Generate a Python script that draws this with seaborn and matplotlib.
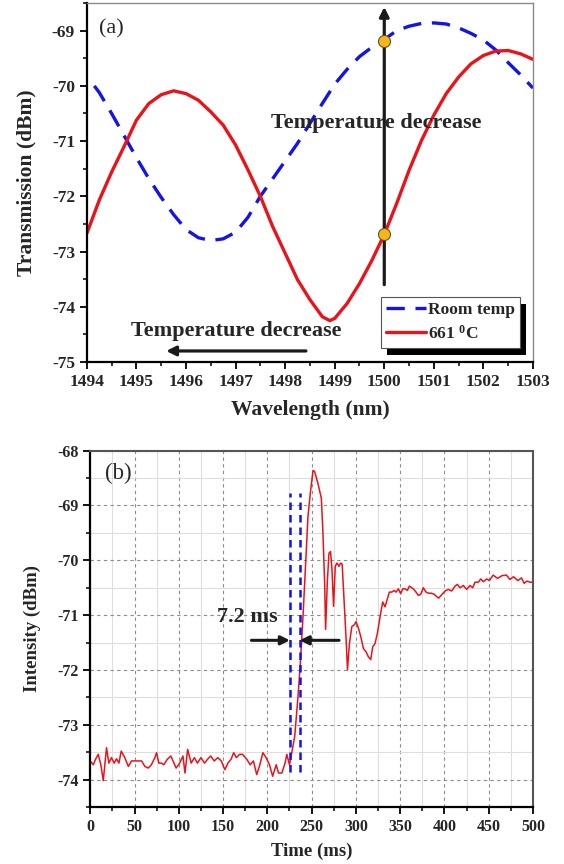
import matplotlib
matplotlib.use("Agg")
import matplotlib.pyplot as plt
import matplotlib.transforms as mtransforms
from matplotlib.patches import Rectangle
from matplotlib.ticker import MultipleLocator
import pandas as pd
import seaborn as sns

# ---------------- (a) transmission spectra ----------------
wl_hot = [1494.00, 1494.25, 1494.50, 1494.75, 1495.00, 1495.25, 1495.50, 1495.75,
          1496.00, 1496.25, 1496.50, 1496.75, 1497.00, 1497.25, 1497.50, 1497.75,
          1498.00, 1498.25, 1498.50, 1498.75, 1498.90, 1499.00, 1499.25, 1499.50,
          1499.75, 1500.00, 1500.25, 1500.50, 1500.75, 1501.00, 1501.25, 1501.50,
          1501.75, 1502.00, 1502.25, 1502.50, 1502.75, 1503.00]
tr_hot = [-72.67, -72.07, -71.56, -71.10, -70.62, -70.32, -70.16, -70.09,
          -70.14, -70.26, -70.47, -70.71, -71.07, -71.52, -72.00, -72.55,
          -73.03, -73.51, -73.87, -74.18, -74.25, -74.21, -73.94, -73.58,
          -73.16, -72.69, -72.13, -71.53, -70.99, -70.53, -70.14, -69.84,
          -69.60, -69.45, -69.37, -69.36, -69.42, -69.52]

wl_room = [1494.15, 1494.25, 1494.50, 1494.75, 1495.00, 1495.25, 1495.50, 1495.75,
           1496.00, 1496.25, 1496.50, 1496.75, 1497.00, 1497.25, 1497.50, 1497.75,
           1498.00, 1498.25, 1498.50, 1498.75, 1499.00, 1499.25, 1499.50, 1499.75,
           1500.00, 1500.25, 1500.50, 1500.75, 1501.00, 1501.25, 1501.50, 1501.75,
           1502.00, 1502.25, 1502.50, 1502.75, 1503.00]
tr_room = [-70.00, -70.12, -70.50, -70.90, -71.30, -71.68, -72.02, -72.33,
           -72.60, -72.75, -72.80, -72.77, -72.65, -72.38, -72.00, -71.68,
           -71.36, -71.04, -70.68, -70.32, -69.97, -69.70, -69.47, -69.30,
           -69.16, -69.00, -68.92, -68.87, -68.86, -68.88, -68.95, -69.05,
           -69.17, -69.35, -69.58, -69.80, -70.04]

probe_wl = [1500.0, 1500.0]
probe_tr = [-69.18, -72.69]

# ---------------- (b) time response ----------------
time_ms = [0, 3.4, 6, 9, 12, 14.7, 18.4, 21, 24, 27, 29.7, 32.4, 35, 39, 43, 46.6,
           52, 58, 61.7, 65.5, 69, 73, 74.9, 77.5, 80.5, 83, 87, 91, 94.5, 97, 101,
           104.7, 107, 110, 114, 117.6, 121, 125, 129, 132.5, 136, 140, 144, 148,
           152, 155.5, 159, 162, 165, 168.6, 172, 176.8, 180.6, 184.3, 188, 191,
           195, 198.6, 202.4, 206, 210, 212.6, 216.4, 220, 222, 225, 227.6, 231,
           232.8, 234.7, 237.3, 240.3, 243.3, 245.9, 248.5, 251.6, 253.4, 257.2,
           261, 262.8, 264.7, 265.8, 267.7, 269.6, 271.4, 273, 274.8, 276.7,
           278.6, 280.9, 282.7, 284.5, 286.7, 289, 290.5, 292.7, 295.4, 298,
           300.2, 302.9, 305.5, 308.5, 311.5, 314.1, 316.8, 319, 321.6, 324.3,
           327.3, 330.3, 332.9, 335.6, 337.8, 340.5, 343.1, 345.4, 348, 350.6,
           352.9, 355.5, 358.2, 360.4, 363, 364.9, 367.9, 370.5, 373.2, 376.2,
           379.2, 381.9, 385, 388.5, 391, 393.5, 396.9, 400.7, 404.4, 408.2, 412,
           414.6, 417.6, 421.4, 425.1, 428.9, 431.9, 434.5, 438.3, 441, 444,
           447.7, 450.7, 455, 460, 465, 470, 474, 478, 483, 487, 490, 493, 497, 500]
intensity = [-73.66, -73.73, -73.63, -73.54, -73.73, -74.02, -73.42, -73.70, -73.60,
             -73.70, -73.62, -73.70, -73.48, -73.60, -73.76, -73.66, -73.66, -73.66,
             -73.76, -73.79, -73.73, -73.60, -73.51, -73.70, -73.70, -73.73, -73.63,
             -73.57, -73.70, -73.79, -73.70, -73.57, -73.88, -73.45, -73.70, -73.60,
             -73.70, -73.60, -73.70, -73.63, -73.57, -73.66, -73.60, -73.66, -73.82,
             -73.70, -73.63, -73.51, -73.60, -73.54, -73.54, -73.63, -73.73, -73.66,
             -73.91, -73.76, -73.51, -73.60, -73.73, -73.94, -73.73, -73.88, -73.88,
             -73.70, -73.54, -73.73, -73.51, -73.20, -72.84, -72.47, -71.87, -71.02,
             -70.05, -69.20, -68.78, -68.36, -68.38, -68.60, -68.87, -69.50, -70.41,
             -71.26, -70.41, -69.87, -69.84, -70.17, -70.84, -70.11, -70.05, -70.11,
             -70.05, -70.07, -70.73, -71.45, -72.00, -71.52, -71.21, -71.18, -71.12,
             -71.24, -71.39, -71.61, -71.67, -71.76, -71.81, -71.58, -71.52, -71.33,
             -71.03, -70.76, -70.85, -70.70, -70.58, -70.58, -70.55, -70.58, -70.52,
             -70.61, -70.52, -70.52, -70.55, -70.47, -70.50, -70.52, -70.58, -70.64,
             -70.62, -70.50, -70.58, -70.60, -70.60, -70.62, -70.66, -70.69, -70.63,
             -70.56, -70.53, -70.56, -70.47, -70.44, -70.50, -70.46, -70.53, -70.46,
             -70.50, -70.40, -70.40, -70.34, -70.39, -70.34, -70.37, -70.27, -70.33,
             -70.28, -70.27, -70.35, -70.30, -70.37, -70.32, -70.42, -70.38, -70.40,
             -70.40]

rise_edges = [225.5, 236.5]

df_hot = pd.DataFrame({"wl": wl_hot, "tr": tr_hot})
df_room = pd.DataFrame({"wl": wl_room, "tr": tr_room})
df_time = pd.DataFrame({"t": time_ms, "p": intensity})

sns.set_theme(style="ticks")
plt.rcParams["font.family"] = ["Liberation Serif", "DejaVu Serif"]
plt.rcParams["font.weight"] = "bold"
plt.rcParams["axes.labelweight"] = "bold"
plt.rcParams["axes.unicode_minus"] = False
plt.rcParams["mathtext.fontset"] = "custom"
plt.rcParams["mathtext.rm"] = "Liberation Serif"
plt.rcParams["mathtext.bf"] = "Liberation Serif:bold"

fig = plt.figure(figsize=(5.64, 8.64), dpi=100)
ax1 = fig.add_axes([0.154, 0.581, 0.791, 0.4155])
ax2 = fig.add_axes([0.160, 0.066, 0.785, 0.4124])

BLUE = "#1414e6"
RED = "#e8141c"

# ---- panel (a) ----
sns.lineplot(data=df_room, x="wl", y="tr", ax=ax1, color=BLUE, lw=2.4,
             label="Room temp", sort=False)
ax1.lines[-1].set_dashes((5.5, 3.2))
sns.lineplot(data=df_hot, x="wl", y="tr", ax=ax1, color=RED, lw=2.4,
             label=r"661 $\mathbf{^{0}}$C", sort=False)

ax1.set_xlim(1494, 1503)
ax1.set_ylim(-75, -68.5)
ax1.xaxis.set_major_locator(MultipleLocator(1))
ax1.xaxis.set_minor_locator(MultipleLocator(0.5))
ax1.yaxis.set_major_locator(MultipleLocator(1))
ax1.yaxis.set_minor_locator(MultipleLocator(0.5))
ax1.set_xlabel("Wavelength (nm)", fontsize=15.5)
ax1.set_ylabel("Transmission (dBm)", fontsize=15.5)
ax1.xaxis.set_label_coords(0.5, -0.105)
ax1.yaxis.set_label_coords(-0.112, 0.5)

ax1.annotate("", xy=(1500, -68.57), xytext=(1500, -73.6),
             arrowprops=dict(arrowstyle="-|>", lw=2.3, color="k",
                             mutation_scale=14, shrinkA=0, shrinkB=0), zorder=6)
ax1.annotate("", xy=(1495.6, -74.8), xytext=(1498.42, -74.8),
             arrowprops=dict(arrowstyle="-|>", lw=2.3, color="k",
                             mutation_scale=14, shrinkA=0, shrinkB=0), zorder=6)
ax1.scatter(probe_wl, probe_tr, s=75, color="#f5b51e", edgecolor="#6a5210",
            linewidth=0.8, zorder=7)
ax1.text(1499.84, -70.68, "Temperature decrease", fontsize=16, ha="center",
         va="center", zorder=3)
ax1.text(1497.02, -74.43, "Temperature decrease", fontsize=16, ha="center",
         va="center", zorder=3)
ax1.text(1494.5, -68.96, "(a)", fontsize=16, fontweight="normal", ha="center",
         va="center")

leg = ax1.legend(loc="lower right", bbox_to_anchor=(0.972, 0.04), borderaxespad=0,
                 frameon=True, fancybox=False, fontsize=12.5, handlelength=2.3,
                 handletextpad=0.15, borderpad=0.3, labelspacing=0.35)
leg.get_frame().set_edgecolor("#555555")
leg.get_frame().set_linewidth(0.8)
leg.get_frame().set_alpha(1)
leg.set_zorder(8)

# ---- panel (b) ----
sns.lineplot(data=df_time, x="t", y="p", ax=ax2, color=RED, lw=1.1, sort=False)
ax2.vlines(rise_edges, -73.87, -68.78, colors=BLUE, linestyles=(0, (3, 2)),
           lw=1.8, zorder=4)
ax2.set_xlim(0, 500)
ax2.set_ylim(-74.5, -68)
ax2.xaxis.set_major_locator(MultipleLocator(50))
ax2.xaxis.set_minor_locator(MultipleLocator(25))
ax2.yaxis.set_major_locator(MultipleLocator(1))
ax2.yaxis.set_minor_locator(MultipleLocator(0.5))
ax2.grid(which="minor", color="#dedede", lw=0.8, ls="-")
ax2.grid(which="major", color="#8c8c8c", lw=0.8, ls=(0, (3, 3)))
ax2.set_axisbelow(True)
ax2.set_xlabel("Time (ms)", fontsize=13.5)
ax2.set_ylabel("Intensity (dBm)", fontsize=13.5)
ax2.xaxis.set_label_coords(0.5, -0.1)
ax2.yaxis.set_label_coords(-0.112, 0.5)

ax2.annotate("", xy=(rise_edges[0], -71.46), xytext=(182, -71.46),
             arrowprops=dict(arrowstyle="-|>", lw=2.2, color="k",
                             mutation_scale=13, shrinkA=0, shrinkB=0), zorder=6)
ax2.annotate("", xy=(rise_edges[1], -71.46), xytext=(281, -71.46),
             arrowprops=dict(arrowstyle="-|>", lw=2.2, color="k",
                             mutation_scale=13, shrinkA=0, shrinkB=0), zorder=6)
ax2.text(177, -71.04, "7.2 ms", fontsize=16, ha="center", va="center")
ax2.text(32, -68.41, "(b)", fontsize=16.5, fontweight="normal", ha="center",
         va="center")

# ---- frames and ticks ----
for ax, tick_fs, edge, edge_lw in [(ax1, 12.5, "#8a8a8a", 1.0), (ax2, 11.5, "#555555", 1.5)]:
    for side in ("left", "bottom"):
        ax.spines[side].set_color("black")
        ax.spines[side].set_linewidth(1.6)
    for side in ("top", "right"):
        ax.spines[side].set_color(edge)
        ax.spines[side].set_linewidth(edge_lw)
        ax.spines[side].set_visible(True)
    ax.tick_params(which="major", direction="out", length=5, width=1.3,
                   labelsize=tick_fs, color="black", top=False, right=False)
    ax.tick_params(which="minor", direction="out", length=3, width=1.1,
                   color="black", top=False, right=False)
    for lab in ax.get_xticklabels() + ax.get_yticklabels():
        lab.set_fontweight("bold")

# black drop shadow behind the legend box
fig.canvas.draw()
bb = leg.get_window_extent()
shadow = Rectangle((bb.x0 + 6, bb.y0 - 7), bb.width, bb.height,
                   transform=mtransforms.IdentityTransform(), facecolor="black",
                   edgecolor="none", clip_on=False, zorder=7.5)
ax1.add_patch(shadow)

fig.savefig("out.png", dpi=100)
